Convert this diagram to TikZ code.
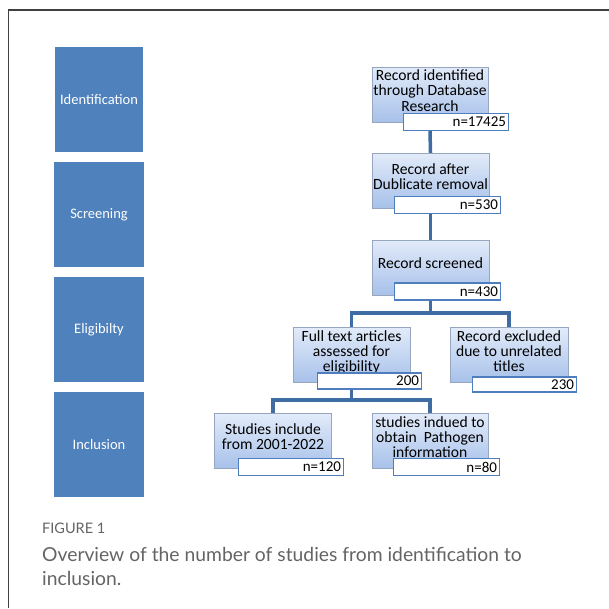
\documentclass[tikz,border=0pt]{standalone}
\usepackage{fontspec}
\setmainfont{Carlito}
\newfontfamily\captionfont{Lato}
\usepackage{tikz}
\usetikzlibrary{positioning, calc}
\definecolor{stageblue}{RGB}{79, 129, 189}
\definecolor{boxtop}{RGB}{226, 235, 249}
\definecolor{boxbot}{RGB}{167, 193, 234}
\definecolor{boxedge}{RGB}{150, 166, 190}
\definecolor{countedge}{RGB}{78, 126, 190}
\definecolor{flowblue}{RGB}{62, 108, 163}
\definecolor{capgrey}{RGB}{100, 100, 100}
% keeps the record text clear of the count box below it
\newcommand{\liftup}{\\[-7pt]\mbox{}}

\begin{document}
\begin{tikzpicture}[x=1pt, y=-1pt,
    stage/.style={fill=stageblue, text=white, minimum height=105pt, inner sep=0pt,
        font=\fontsize{14.5}{16}\selectfont},
    recbox/.style={draw=boxedge, top color=boxtop, bottom color=boxbot, align=center,
        minimum width=117pt, minimum height=55pt, inner sep=0pt,
        font=\fontsize{15.6}{15.2}\selectfont},
    countbox/.style={draw=countedge, line width=1.1pt, fill=white, align=right,
        text width=100pt, minimum height=17pt, inner sep=2.5pt,
        font=\fontsize{15}{15}\selectfont},
    flowline/.style={draw=flowblue, line width=3.5pt}]
    \useasboundingbox (0,0) rectangle (609,608);
    % frame
    \draw[line width=1.2pt, black!75] (609,10) -- (8.5,10) -- (8.5,608);

    % stages
    \node[stage, minimum width=88pt] (stIdent) at (99,99.5) {Identification};
    \node[stage, minimum width=90pt] (stScreen) at (99,214.5) {Screening};
    \node[stage, minimum width=90pt] (stElig) at (99,329.5) {Eligibilty};
    \node[stage, minimum width=90pt] (stIncl) at (99,444.5) {Inclusion};

    % records
    \node[recbox, minimum width=116pt] (ident) at (430,94.5) {Record identified\\through Database\\Research\liftup};
    \node[countbox, text width=100pt] (idn) at (456,122) {n=17425};
    \node[recbox] (dup) at (430.5,180.5) {Record after\\Dublicate removal\liftup};
    \node[countbox, text width=101pt] (dupn) at (447.5,205) {n=530};
    \node[recbox] (scr) at (430.5,267.5) {Record screened\liftup};
    \node[countbox, text width=101pt] (scrn) at (447.5,291.5) {n=430};

    \node[recbox] (full) at (351.5,355) {Full text articles\\assessed for\\eligibility\liftup};
    \node[countbox, text width=99pt, minimum height=16pt] (fulln) at (369.5,381) {200};
    \node[recbox, minimum width=118pt] (excl) at (509,355) {Record excluded\\due to unrelated\\titles\liftup};
    \node[countbox, text width=99pt, minimum height=15pt] (excln) at (524.5,384.5) {230};

    \node[recbox] (incl) at (273,441) {Studies include\\from 2001-2022\liftup};
    \node[countbox] (incln) at (291,467) {n=120};
    \node[recbox, minimum width=116pt] (path) at (430,441) {studies indued to\\obtain\ \ Pathogen\\information\liftup};
    \node[countbox, text width=101pt] (pathn) at (446.5,467) {n=80};

    % connectors
    \coordinate (split1) at (430.5,313);
    \coordinate (split2) at (351.5,400);
    \draw[flowline] (idn.south -| ident.south) -- (dup.north);
    \draw[flowline] (dupn.south -| dup.south) -- (scr.north);
    \draw[flowline] (scrn.south -| scr.south) -- (split1);
    \draw[flowline] (full.north) |- (split1) -| (excl.north);
    \draw[flowline] (fulln.south -| full.south) -- (split2);
    \draw[flowline] (incl.north) |- (split2) -| (path.north);

    % caption
    \node[anchor=west, text=capgrey, inner sep=0pt, font=\captionfont\fontsize{14.5}{16}\selectfont]
        (figlabel) at (42,528) {FIGURE 1};
    \node[anchor=north west, text=capgrey, inner sep=0pt, align=left,
        font=\captionfont\fontsize{19.3}{24}\selectfont]
        (figcaption) at (42,547) {Overview of the number of studies from identification to\\inclusion.};
\end{tikzpicture}
\end{document}
